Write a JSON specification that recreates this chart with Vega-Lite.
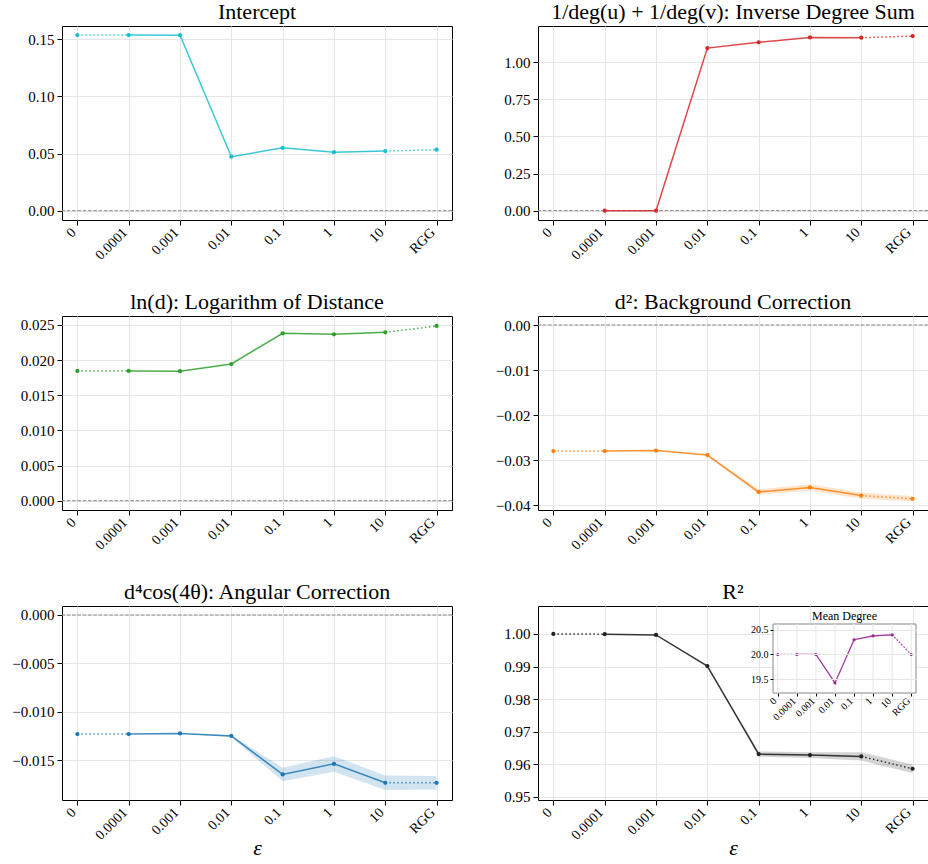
{
  "$schema": "https://vega.github.io/schema/vega-lite/v6.json",
  "padding": {"left": 11, "top": 0, "right": 0, "bottom": 0},
  "background": "white",
  "config": {
    "font": "Liberation Serif",
    "view": {"stroke": "#000", "strokeWidth": 1},
    "axis": {"labelFont": "Liberation Serif", "labelFontSize": 15, "labelColor": "#000", "tickColor": "#000", "tickSize": 5, "domain": false, "gridColor": "#e6e6e6", "gridWidth": 1, "labelPadding": 3, "labelOverlap": false, "titleFont": "Liberation Serif", "titleFontWeight": "normal", "titleColor": "#000"},
    "axisX": {"labelFontSize": 14, "labelAngle": -45, "labelAlign": "right", "labelBaseline": "middle", "labelOffset": -4, "labelPadding": 5},
    "title": {"font": "Liberation Serif", "fontSize": 22, "fontWeight": "normal", "color": "#000", "offset": 2}
  },
  "datasets": {
    "d": [
      {"p": "int", "e": "0", "v": 0.1535, "lo": 0.1535, "hi": 0.1535},
      {"p": "int", "e": "0.0001", "v": 0.1535, "lo": 0.1535, "hi": 0.1535},
      {"p": "int", "e": "0.001", "v": 0.1534, "lo": 0.1534, "hi": 0.1534},
      {"p": "int", "e": "0.01", "v": 0.0472, "lo": 0.0472, "hi": 0.0472},
      {"p": "int", "e": "0.1", "v": 0.0550, "lo": 0.0550, "hi": 0.0550},
      {"p": "int", "e": "1", "v": 0.0511, "lo": 0.0511, "hi": 0.0511},
      {"p": "int", "e": "10", "v": 0.0521, "lo": 0.0521, "hi": 0.0521},
      {"p": "int", "e": "RGG", "v": 0.0533, "lo": 0.0533, "hi": 0.0533},
      {"p": "inv", "e": "0.0001", "v": 0.0, "lo": 0.0, "hi": 0.0},
      {"p": "inv", "e": "0.001", "v": 0.0, "lo": 0.0, "hi": 0.0},
      {"p": "inv", "e": "0.01", "v": 1.096, "lo": 1.096, "hi": 1.096},
      {"p": "inv", "e": "0.1", "v": 1.135, "lo": 1.135, "hi": 1.135},
      {"p": "inv", "e": "1", "v": 1.168, "lo": 1.168, "hi": 1.168},
      {"p": "inv", "e": "10", "v": 1.166, "lo": 1.166, "hi": 1.166},
      {"p": "inv", "e": "RGG", "v": 1.177, "lo": 1.177, "hi": 1.177},
      {"p": "ln", "e": "0", "v": 0.01846, "lo": 0.01846, "hi": 0.01846},
      {"p": "ln", "e": "0.0001", "v": 0.01846, "lo": 0.01846, "hi": 0.01846},
      {"p": "ln", "e": "0.001", "v": 0.01843, "lo": 0.01843, "hi": 0.01843},
      {"p": "ln", "e": "0.01", "v": 0.01945, "lo": 0.01945, "hi": 0.01945},
      {"p": "ln", "e": "0.1", "v": 0.02382, "lo": 0.02382, "hi": 0.02382},
      {"p": "ln", "e": "1", "v": 0.02368, "lo": 0.02368, "hi": 0.02368},
      {"p": "ln", "e": "10", "v": 0.02396, "lo": 0.02396, "hi": 0.02396},
      {"p": "ln", "e": "RGG", "v": 0.02486, "lo": 0.02486, "hi": 0.02486},
      {"p": "d2", "e": "0", "v": -0.0280, "lo": -0.0280, "hi": -0.0280},
      {"p": "d2", "e": "0.0001", "v": -0.0280, "lo": -0.0280, "hi": -0.0280},
      {"p": "d2", "e": "0.001", "v": -0.0279, "lo": -0.0279, "hi": -0.0279},
      {"p": "d2", "e": "0.01", "v": -0.0289, "lo": -0.0290, "hi": -0.0288},
      {"p": "d2", "e": "0.1", "v": -0.0371, "lo": -0.0377, "hi": -0.0365},
      {"p": "d2", "e": "1", "v": -0.0361, "lo": -0.0368, "hi": -0.0354},
      {"p": "d2", "e": "10", "v": -0.0379, "lo": -0.0386, "hi": -0.0372},
      {"p": "d2", "e": "RGG", "v": -0.0386, "lo": -0.0392, "hi": -0.0380},
      {"p": "ang", "e": "0", "v": -0.0123, "lo": -0.0123, "hi": -0.0123},
      {"p": "ang", "e": "0.0001", "v": -0.0123, "lo": -0.0123, "hi": -0.0123},
      {"p": "ang", "e": "0.001", "v": -0.01223, "lo": -0.01223, "hi": -0.01223},
      {"p": "ang", "e": "0.01", "v": -0.0125, "lo": -0.0126, "hi": -0.0124},
      {"p": "ang", "e": "0.1", "v": -0.01647, "lo": -0.01717, "hi": -0.01577},
      {"p": "ang", "e": "1", "v": -0.01538, "lo": -0.01618, "hi": -0.01458},
      {"p": "ang", "e": "10", "v": -0.01733, "lo": -0.01808, "hi": -0.01658},
      {"p": "ang", "e": "RGG", "v": -0.01733, "lo": -0.01803, "hi": -0.01663},
      {"p": "r2", "e": "0", "v": 1.0, "lo": 1.0, "hi": 1.0},
      {"p": "r2", "e": "0.0001", "v": 0.99995, "lo": 0.99995, "hi": 0.99995},
      {"p": "r2", "e": "0.001", "v": 0.9997, "lo": 0.9997, "hi": 0.9997},
      {"p": "r2", "e": "0.01", "v": 0.99016, "lo": 0.99006, "hi": 0.99026},
      {"p": "r2", "e": "0.1", "v": 0.9631, "lo": 0.9623, "hi": 0.9639},
      {"p": "r2", "e": "1", "v": 0.9628, "lo": 0.9619, "hi": 0.9637},
      {"p": "r2", "e": "10", "v": 0.9624, "lo": 0.9611, "hi": 0.9637},
      {"p": "r2", "e": "RGG", "v": 0.9586, "lo": 0.9573, "hi": 0.9599},
      {"p": "deg", "e": "0", "v": 20.0, "lo": 20.0, "hi": 20.0},
      {"p": "deg", "e": "0.0001", "v": 20.0, "lo": 20.0, "hi": 20.0},
      {"p": "deg", "e": "0.001", "v": 20.0, "lo": 20.0, "hi": 20.0},
      {"p": "deg", "e": "0.01", "v": 19.42, "lo": 19.41, "hi": 19.43},
      {"p": "deg", "e": "0.1", "v": 20.30, "lo": 20.28, "hi": 20.32},
      {"p": "deg", "e": "1", "v": 20.38, "lo": 20.36, "hi": 20.40},
      {"p": "deg", "e": "10", "v": 20.40, "lo": 20.38, "hi": 20.42},
      {"p": "deg", "e": "RGG", "v": 20.0, "lo": 19.99, "hi": 20.01}
    ]
  },
  "columns": 2,
  "spacing": {"row": 27, "column": 41},
  "concat": [
    {
      "width": 390, "height": 194,
      "title": {"text": "Intercept"},
      "data": {"name": "d"},
      "transform": [{"filter": {"field": "p", "equal": "int"}}],
      "layer": [
        {"mark": {"type": "area", "color": "#17becf", "opacity": 0.2},
         "encoding": {
           "x": {"field": "e", "type": "ordinal", "title": null, "scale": {"type": "point", "domain": ["0", "0.0001", "0.001", "0.01", "0.1", "1", "10", "RGG"], "padding": 0.3}, "axis": {"grid": true}},
           "y": {"field": "lo", "type": "quantitative", "title": null, "scale": {"domain": [-0.0081, 0.1614], "nice": false, "zero": false}, "axis": {"values": [0, 0.05, 0.1, 0.15], "format": ".2f", "tickCount": 10, "labelOverlap": false}},
           "y2": {"field": "hi"}}},
        {"transform": [{"filter": {"field": "e", "equal": "0.01"}}],
         "mark": {"type": "rule", "color": "#888888", "strokeDash": [3.7, 1.6], "strokeWidth": 1},
         "encoding": {"y": {"datum": 0, "type": "quantitative"}}},
        {"transform": [{"filter": {"field": "e", "oneOf": ["0.0001", "0.001", "0.01", "0.1", "1", "10"]}}],
         "mark": {"type": "line", "color": "#17becf", "strokeWidth": 1.5, "opacity": 0.85},
         "encoding": {"x": {"field": "e", "type": "ordinal", "title": null}, "y": {"field": "v", "type": "quantitative", "title": null}}},
        {"transform": [{"filter": {"field": "e", "oneOf": ["0", "0.0001"]}}],
         "mark": {"type": "line", "color": "#17becf", "strokeWidth": 1.5, "opacity": 0.85, "strokeDash": [1.5, 2.5]},
         "encoding": {"x": {"field": "e", "type": "ordinal", "title": null}, "y": {"field": "v", "type": "quantitative", "title": null}}},
        {"transform": [{"filter": {"field": "e", "oneOf": ["10", "RGG"]}}],
         "mark": {"type": "line", "color": "#17becf", "strokeWidth": 1.5, "opacity": 0.85, "strokeDash": [1.5, 2.5]},
         "encoding": {"x": {"field": "e", "type": "ordinal", "title": null}, "y": {"field": "v", "type": "quantitative", "title": null}}},
        {"mark": {"type": "circle", "color": "#17becf", "size": 18, "opacity": 1},
         "encoding": {"x": {"field": "e", "type": "ordinal", "title": null}, "y": {"field": "v", "type": "quantitative", "title": null}}}
      ]
    },
    {
      "width": 390, "height": 194,
      "title": {"text": "1/deg(u) + 1/deg(v): Inverse Degree Sum"},
      "data": {"name": "d"},
      "transform": [{"filter": {"field": "p", "equal": "inv"}}],
      "layer": [
        {"mark": {"type": "area", "color": "#d62728", "opacity": 0.2},
         "encoding": {
           "x": {"field": "e", "type": "ordinal", "title": null, "scale": {"type": "point", "domain": ["0", "0.0001", "0.001", "0.01", "0.1", "1", "10", "RGG"], "padding": 0.3}, "axis": {"grid": true}},
           "y": {"field": "lo", "type": "quantitative", "title": null, "scale": {"domain": [-0.063, 1.245], "nice": false, "zero": false}, "axis": {"values": [0, 0.25, 0.5, 0.75, 1.0], "format": ".2f", "tickCount": 10, "labelOverlap": false}},
           "y2": {"field": "hi"}}},
        {"transform": [{"filter": {"field": "e", "equal": "0.01"}}],
         "mark": {"type": "rule", "color": "#888888", "strokeDash": [3.7, 1.6], "strokeWidth": 1},
         "encoding": {"y": {"datum": 0, "type": "quantitative"}}},
        {"transform": [{"filter": {"field": "e", "oneOf": ["0.0001", "0.001", "0.01", "0.1", "1", "10"]}}],
         "mark": {"type": "line", "color": "#d62728", "strokeWidth": 1.5, "opacity": 0.85},
         "encoding": {"x": {"field": "e", "type": "ordinal", "title": null}, "y": {"field": "v", "type": "quantitative", "title": null}}},
        {"transform": [{"filter": {"field": "e", "oneOf": ["10", "RGG"]}}],
         "mark": {"type": "line", "color": "#d62728", "strokeWidth": 1.5, "opacity": 0.85, "strokeDash": [1.5, 2.5]},
         "encoding": {"x": {"field": "e", "type": "ordinal", "title": null}, "y": {"field": "v", "type": "quantitative", "title": null}}},
        {"mark": {"type": "circle", "color": "#d62728", "size": 18, "opacity": 1},
         "encoding": {"x": {"field": "e", "type": "ordinal", "title": null}, "y": {"field": "v", "type": "quantitative", "title": null}}}
      ]
    },
    {
      "width": 390, "height": 194,
      "title": {"text": "ln(d): Logarithm of Distance"},
      "data": {"name": "d"},
      "transform": [{"filter": {"field": "p", "equal": "ln"}}],
      "layer": [
        {"mark": {"type": "area", "color": "#2ca02c", "opacity": 0.2},
         "encoding": {
           "x": {"field": "e", "type": "ordinal", "title": null, "scale": {"type": "point", "domain": ["0", "0.0001", "0.001", "0.01", "0.1", "1", "10", "RGG"], "padding": 0.3}, "axis": {"grid": true}},
           "y": {"field": "lo", "type": "quantitative", "title": null, "scale": {"domain": [-0.00132, 0.02628], "nice": false, "zero": false}, "axis": {"values": [0, 0.005, 0.01, 0.015, 0.02, 0.025], "format": ".3f", "tickCount": 10, "labelOverlap": false}},
           "y2": {"field": "hi"}}},
        {"transform": [{"filter": {"field": "e", "equal": "0.01"}}],
         "mark": {"type": "rule", "color": "#888888", "strokeDash": [3.7, 1.6], "strokeWidth": 1},
         "encoding": {"y": {"datum": 0, "type": "quantitative"}}},
        {"transform": [{"filter": {"field": "e", "oneOf": ["0.0001", "0.001", "0.01", "0.1", "1", "10"]}}],
         "mark": {"type": "line", "color": "#2ca02c", "strokeWidth": 1.5, "opacity": 0.85},
         "encoding": {"x": {"field": "e", "type": "ordinal", "title": null}, "y": {"field": "v", "type": "quantitative", "title": null}}},
        {"transform": [{"filter": {"field": "e", "oneOf": ["0", "0.0001"]}}],
         "mark": {"type": "line", "color": "#2ca02c", "strokeWidth": 1.5, "opacity": 0.85, "strokeDash": [1.5, 2.5]},
         "encoding": {"x": {"field": "e", "type": "ordinal", "title": null}, "y": {"field": "v", "type": "quantitative", "title": null}}},
        {"transform": [{"filter": {"field": "e", "oneOf": ["10", "RGG"]}}],
         "mark": {"type": "line", "color": "#2ca02c", "strokeWidth": 1.5, "opacity": 0.85, "strokeDash": [1.5, 2.5]},
         "encoding": {"x": {"field": "e", "type": "ordinal", "title": null}, "y": {"field": "v", "type": "quantitative", "title": null}}},
        {"mark": {"type": "circle", "color": "#2ca02c", "size": 18, "opacity": 1},
         "encoding": {"x": {"field": "e", "type": "ordinal", "title": null}, "y": {"field": "v", "type": "quantitative", "title": null}}}
      ]
    },
    {
      "width": 390, "height": 194,
      "title": {"text": "d²: Background Correction"},
      "data": {"name": "d"},
      "transform": [{"filter": {"field": "p", "equal": "d2"}}],
      "layer": [
        {"mark": {"type": "area", "color": "#ff7f0e", "opacity": 0.2},
         "encoding": {
           "x": {"field": "e", "type": "ordinal", "title": null, "scale": {"type": "point", "domain": ["0", "0.0001", "0.001", "0.01", "0.1", "1", "10", "RGG"], "padding": 0.3}, "axis": {"grid": true}},
           "y": {"field": "lo", "type": "quantitative", "title": null, "scale": {"domain": [-0.0411, 0.002], "nice": false, "zero": false}, "axis": {"values": [-0.04, -0.03, -0.02, -0.01, 0], "format": ".2f", "tickCount": 10, "labelOverlap": false}},
           "y2": {"field": "hi"}}},
        {"transform": [{"filter": {"field": "e", "equal": "0.01"}}],
         "mark": {"type": "rule", "color": "#888888", "strokeDash": [3.7, 1.6], "strokeWidth": 1},
         "encoding": {"y": {"datum": 0, "type": "quantitative"}}},
        {"transform": [{"filter": {"field": "e", "oneOf": ["0.0001", "0.001", "0.01", "0.1", "1", "10"]}}],
         "mark": {"type": "line", "color": "#ff7f0e", "strokeWidth": 1.5, "opacity": 0.85},
         "encoding": {"x": {"field": "e", "type": "ordinal", "title": null}, "y": {"field": "v", "type": "quantitative", "title": null}}},
        {"transform": [{"filter": {"field": "e", "oneOf": ["0", "0.0001"]}}],
         "mark": {"type": "line", "color": "#ff7f0e", "strokeWidth": 1.5, "opacity": 0.85, "strokeDash": [1.5, 2.5]},
         "encoding": {"x": {"field": "e", "type": "ordinal", "title": null}, "y": {"field": "v", "type": "quantitative", "title": null}}},
        {"transform": [{"filter": {"field": "e", "oneOf": ["10", "RGG"]}}],
         "mark": {"type": "line", "color": "#ff7f0e", "strokeWidth": 1.5, "opacity": 0.85, "strokeDash": [1.5, 2.5]},
         "encoding": {"x": {"field": "e", "type": "ordinal", "title": null}, "y": {"field": "v", "type": "quantitative", "title": null}}},
        {"mark": {"type": "circle", "color": "#ff7f0e", "size": 18, "opacity": 1},
         "encoding": {"x": {"field": "e", "type": "ordinal", "title": null}, "y": {"field": "v", "type": "quantitative", "title": null}}}
      ]
    },
    {
      "width": 390, "height": 194,
      "title": {"text": "d⁴cos(4θ): Angular Correction"},
      "data": {"name": "d"},
      "transform": [{"filter": {"field": "p", "equal": "ang"}}],
      "layer": [
        {"mark": {"type": "area", "color": "#1f77b4", "opacity": 0.2},
         "encoding": {
           "x": {"field": "e", "type": "ordinal", "title": "ε", "scale": {"type": "point", "domain": ["0", "0.0001", "0.001", "0.01", "0.1", "1", "10", "RGG"], "padding": 0.3}, "axis": {"grid": true, "titleFontSize": 22, "titleFontStyle": "italic", "titlePadding": -5}},
           "y": {"field": "lo", "type": "quantitative", "title": null, "scale": {"domain": [-0.01911, 0.000925], "nice": false, "zero": false}, "axis": {"values": [-0.015, -0.01, -0.005, 0], "format": ".3f", "tickCount": 10, "labelOverlap": false}},
           "y2": {"field": "hi"}}},
        {"transform": [{"filter": {"field": "e", "equal": "0.01"}}],
         "mark": {"type": "rule", "color": "#888888", "strokeDash": [3.7, 1.6], "strokeWidth": 1},
         "encoding": {"y": {"datum": 0, "type": "quantitative"}}},
        {"transform": [{"filter": {"field": "e", "oneOf": ["0.0001", "0.001", "0.01", "0.1", "1", "10"]}}],
         "mark": {"type": "line", "color": "#1f77b4", "strokeWidth": 1.5, "opacity": 0.85},
         "encoding": {"x": {"field": "e", "type": "ordinal", "title": "ε"}, "y": {"field": "v", "type": "quantitative", "title": null}}},
        {"transform": [{"filter": {"field": "e", "oneOf": ["0", "0.0001"]}}],
         "mark": {"type": "line", "color": "#1f77b4", "strokeWidth": 1.5, "opacity": 0.85, "strokeDash": [1.5, 2.5]},
         "encoding": {"x": {"field": "e", "type": "ordinal", "title": "ε"}, "y": {"field": "v", "type": "quantitative", "title": null}}},
        {"transform": [{"filter": {"field": "e", "oneOf": ["10", "RGG"]}}],
         "mark": {"type": "line", "color": "#1f77b4", "strokeWidth": 1.5, "opacity": 0.85, "strokeDash": [1.5, 2.5]},
         "encoding": {"x": {"field": "e", "type": "ordinal", "title": "ε"}, "y": {"field": "v", "type": "quantitative", "title": null}}},
        {"mark": {"type": "circle", "color": "#1f77b4", "size": 18, "opacity": 1},
         "encoding": {"x": {"field": "e", "type": "ordinal", "title": "ε"}, "y": {"field": "v", "type": "quantitative", "title": null}}}
      ]
    },
    {
      "width": 390, "height": 194,
      "title": {"text": "R²"},
      "layer": [
        {
          "data": {"name": "d"},
          "transform": [{"filter": {"field": "p", "equal": "r2"}}],
          "layer": [
            {"mark": {"type": "area", "color": "#222222", "opacity": 0.2},
             "encoding": {
               "x": {"field": "e", "type": "ordinal", "title": "ε", "scale": {"type": "point", "domain": ["0", "0.0001", "0.001", "0.01", "0.1", "1", "10", "RGG"], "padding": 0.3}, "axis": {"grid": true, "titleFontSize": 22, "titleFontStyle": "italic", "titlePadding": -5}},
               "y": {"field": "lo", "type": "quantitative", "title": null, "scale": {"domain": [0.949, 1.0086], "nice": false, "zero": false}, "axis": {"values": [0.95, 0.96, 0.97, 0.98, 0.99, 1.0], "format": ".2f", "tickCount": 10, "labelOverlap": false}},
               "y2": {"field": "hi"}}},
            {"transform": [{"filter": {"field": "e", "oneOf": ["0.0001", "0.001", "0.01", "0.1", "1", "10"]}}],
             "mark": {"type": "line", "color": "#222222", "strokeWidth": 1.5, "opacity": 0.9},
             "encoding": {"x": {"field": "e", "type": "ordinal", "title": "ε"}, "y": {"field": "v", "type": "quantitative", "title": null}}},
            {"transform": [{"filter": {"field": "e", "oneOf": ["0", "0.0001"]}}],
             "mark": {"type": "line", "color": "#222222", "strokeWidth": 1.5, "opacity": 0.9, "strokeDash": [1.5, 2.5]},
             "encoding": {"x": {"field": "e", "type": "ordinal", "title": "ε"}, "y": {"field": "v", "type": "quantitative", "title": null}}},
            {"transform": [{"filter": {"field": "e", "oneOf": ["10", "RGG"]}}],
             "mark": {"type": "line", "color": "#222222", "strokeWidth": 1.5, "opacity": 0.9, "strokeDash": [1.5, 2.5]},
             "encoding": {"x": {"field": "e", "type": "ordinal", "title": "ε"}, "y": {"field": "v", "type": "quantitative", "title": null}}},
            {"mark": {"type": "circle", "color": "#222222", "size": 18, "opacity": 1},
             "encoding": {"x": {"field": "e", "type": "ordinal", "title": "ε"}, "y": {"field": "v", "type": "quantitative", "title": null}}}
          ]
        },
        {
          "layer": [
            {
              "data": {"values": [{"t": "Mean Degree"}]},
              "layer": [
                {"mark": {"type": "rect", "fill": "#ffffff", "stroke": "#888888", "strokeWidth": 1},
                 "encoding": {
                   "x": {"datum": 0, "type": "quantitative", "scale": {"domain": [0, 1], "range": [235, 378], "nice": false, "zero": false}, "axis": null},
                   "x2": {"datum": 1},
                   "y": {"datum": 0, "type": "quantitative", "scale": {"domain": [0, 1], "range": [87, 18], "nice": false, "zero": false}, "axis": null},
                   "y2": {"datum": 1}}},
                {"mark": {"type": "text", "baseline": "bottom", "dy": -1, "fontSize": 12, "font": "Liberation Serif", "color": "#000"},
                 "encoding": {
                   "x": {"datum": 0.5, "type": "quantitative"},
                   "y": {"datum": 1, "type": "quantitative"},
                   "text": {"field": "t"}}}
              ]
            },
            {
              "data": {"name": "d"},
              "transform": [{"filter": {"field": "p", "equal": "deg"}}],
              "layer": [
                {"mark": {"type": "rule", "color": "#e6e6e6", "strokeWidth": 1},
                 "encoding": {
                   "x": {"field": "e", "type": "ordinal", "title": null, "scale": {"type": "point", "domain": ["0", "0.0001", "0.001", "0.01", "0.1", "1", "10", "RGG"], "padding": 0.25, "range": [235, 378]}, "axis": {"orient": "bottom", "offset": -107, "grid": false, "labelFontSize": 10, "tickSize": 3, "labelPadding": 3, "labelOffset": -3}},
                   "y": {"datum": 19.216, "type": "quantitative", "title": null, "scale": {"domain": [19.216, 20.62], "range": [87, 18], "nice": false, "zero": false}, "axis": {"orient": "left", "offset": -235, "values": [19.5, 20, 20.5], "format": ".1f", "tickCount": 10, "labelFontSize": 10, "tickSize": 3, "labelPadding": 2, "grid": true, "zindex": 1}},
                   "y2": {"datum": 20.62}}},
                {"mark": {"type": "area", "color": "#952a95", "opacity": 0.2},
                 "encoding": {"x": {"field": "e", "type": "ordinal", "title": null}, "y": {"field": "lo", "type": "quantitative", "title": null}, "y2": {"field": "hi"}}},
                {"transform": [{"filter": {"field": "e", "oneOf": ["0.0001", "0.001", "0.01", "0.1", "1", "10"]}}],
                 "mark": {"type": "line", "color": "#952a95", "strokeWidth": 1.3, "opacity": 0.9},
                 "encoding": {"x": {"field": "e", "type": "ordinal", "title": null}, "y": {"field": "v", "type": "quantitative", "title": null}}},
                {"transform": [{"filter": {"field": "e", "oneOf": ["0", "0.0001"]}}],
                 "mark": {"type": "line", "color": "#952a95", "strokeWidth": 1.3, "opacity": 0.9, "strokeDash": [1.3, 2]},
                 "encoding": {"x": {"field": "e", "type": "ordinal", "title": null}, "y": {"field": "v", "type": "quantitative", "title": null}}},
                {"transform": [{"filter": {"field": "e", "oneOf": ["10", "RGG"]}}],
                 "mark": {"type": "line", "color": "#952a95", "strokeWidth": 1.3, "opacity": 0.9, "strokeDash": [1.3, 2]},
                 "encoding": {"x": {"field": "e", "type": "ordinal", "title": null}, "y": {"field": "v", "type": "quantitative", "title": null}}},
                {"mark": {"type": "circle", "color": "#952a95", "size": 10, "opacity": 1},
                 "encoding": {"x": {"field": "e", "type": "ordinal", "title": null}, "y": {"field": "v", "type": "quantitative", "title": null}}}
              ]
            }
          ],
          "resolve": {"scale": {"x": "independent", "y": "independent"}}
        }
      ],
      "resolve": {"scale": {"x": "independent", "y": "independent"}}
    }
  ]
}
